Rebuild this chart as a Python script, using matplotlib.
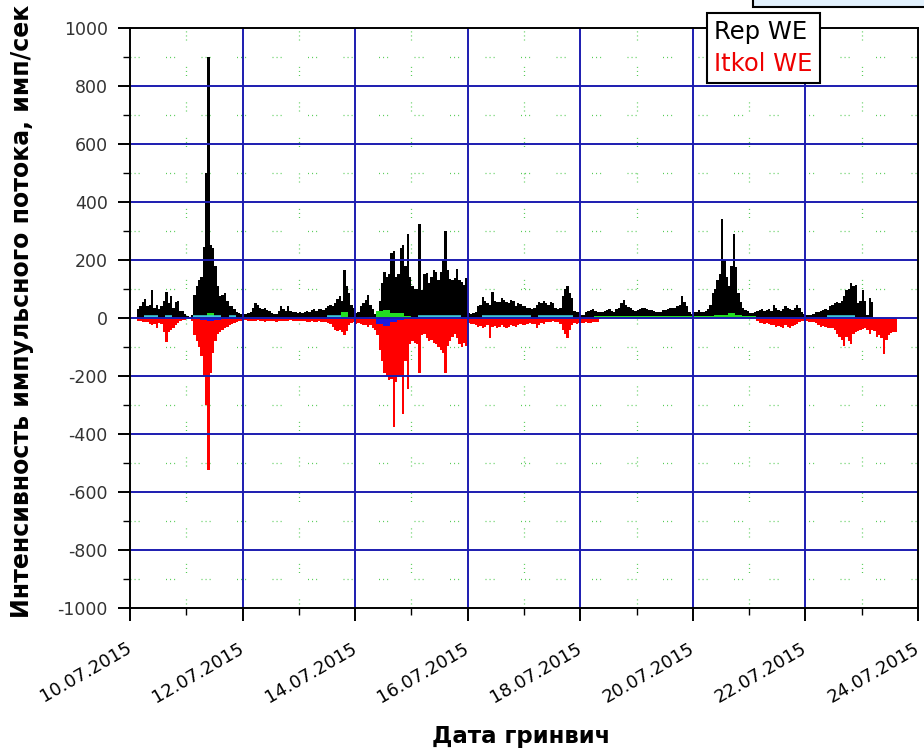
import numpy as np
import matplotlib
matplotlib.use("Agg")
import matplotlib.pyplot as plt
from matplotlib.patches import Rectangle
from matplotlib.ticker import MultipleLocator, FixedLocator

plt.rcParams['lines.scale_dashes'] = False

# ---- data: hourly bins, days 10.07 .. 23.07 (24 values per day) ----
first_day = 10
rep_we = [
    0, 0, 0, 30, 40, 55, 65, 40, 45, 97, 35, 45, 30, 40, 60, 90, 50, 75, 35, 55, 60, 25, 25, 15,            # 10.07
    8, 5, 10, 80, 110, 130, 140, 245, 500, 900, 250, 240, 180, 110, 75, 80, 85, 60, 40, 40, 30, 22, 18, 15,  # 11.07
    15, 15, 18, 20, 35, 50, 45, 35, 30, 35, 28, 25, 18, 15, 15, 25, 40, 30, 25, 40, 25, 20, 22, 18,         # 12.07
    20, 18, 22, 25, 20, 28, 30, 25, 32, 30, 28, 35, 40, 45, 40, 50, 65, 75, 60, 165, 110, 85, 45, 35,       # 13.07
    16, 20, 40, 50, 62, 80, 45, 30, 15, 15, 60, 120, 160, 140, 150, 225, 230, 140, 150, 240, 250, 180, 290, 140,  # 14.07
    110, 100, 100, 325, 95, 150, 155, 120, 140, 165, 160, 130, 160, 200, 300, 165, 135, 130, 137, 170, 130, 125, 115, 137,  # 15.07
    16, 15, 18, 20, 40, 45, 73, 60, 50, 45, 90, 60, 55, 56, 68, 62, 55, 50, 62, 60, 40, 50, 48, 40,         # 16.07
    40, 35, 33, 30, 35, 45, 55, 50, 60, 50, 45, 55, 50, 33, 30, 35, 75, 100, 110, 85, 70, 25, 20, 20,       # 17.07
    10, 12, 22, 25, 28, 30, 25, 22, 20, 22, 25, 28, 30, 25, 22, 30, 33, 50, 62, 45, 39, 35, 28, 25,         # 18.07
    28, 30, 33, 35, 30, 28, 28, 25, 22, 20, 22, 28, 28, 30, 33, 35, 35, 40, 45, 75, 55, 40, 20, 15,         # 19.07
    22, 20, 28, 22, 20, 25, 30, 45, 85, 100, 130, 150, 340, 200, 140, 110, 180, 290, 175, 85, 55, 35, 28, 25,  # 20.07
    18, 16, 20, 25, 28, 30, 25, 28, 30, 25, 45, 35, 28, 25, 30, 40, 35, 30, 28, 33, 45, 35, 20, 15,         # 21.07
    10, 12, 10, 15, 20, 22, 25, 28, 30, 28, 40, 45, 50, 55, 50, 60, 75, 95, 100, 120, 110, 115, 50, 60,     # 22.07
    95, 60, 10, 68, 56, 0, 0, 0, 0, 0, 0, 0, 0, 0, 0, 0, 0, 0, 0, 0, 0, 0, 0, 0,                           # 23.07
]
itkol_we = [
    0, 0, 0, -10, -12, -15, -13, -15, -20, -25, -22, -35, -18, -20, -47, -82, -47, -40, -35, -25, -18, -10, -8, -8,  # 10.07
    -5, -5, -10, -60, -80, -100, -130, -200, -300, -525, -190, -120, -80, -55, -50, -40, -35, -30, -25, -20, -18, -15, -12, -12,  # 11.07
    -8, -8, -10, -10, -12, -10, -8, -10, -12, -15, -12, -10, -10, -12, -15, -12, -10, -10, -12, -10, -8, -10, -12, -10,  # 12.07
    -10, -12, -12, -15, -13, -12, -15, -14, -12, -15, -13, -15, -18, -20, -30, -40, -45, -42, -48, -59, -45, -24, -18, -15,  # 13.07
    -20, -18, -20, -25, -24, -30, -25, -35, -40, -60, -110, -150, -190, -200, -215, -210, -375, -220, -205, -200, -330, -150, -245, -90,  # 14.07
    -80, -85, -90, -190, -60, -55, -70, -80, -75, -85, -90, -100, -110, -120, -190, -95, -80, -65, -55, -70, -90, -100, -85, -95,  # 15.07
    -18, -20, -22, -25, -30, -28, -35, -30, -25, -70, -30, -28, -35, -30, -25, -30, -35, -30, -25, -28, -30, -25, -22, -25,  # 16.07
    -25, -20, -18, -22, -20, -35, -25, -18, -20, -15, -13, -15, -12, -15, -13, -20, -40, -55, -70, -40, -25, -18, -20, -18,  # 17.07
    -18, -18, -15, -18, -18, -15, -15, -15, 0, 0, 0, 0, 0, 0, 0, 0, 0, 0, 0, 0, 0, 0, 0, 0,                  # 18.07
    0, 0, 0, 0, 0, 0, 0, 0, 0, 0, 0, 0, 0, 0, 0, 0, 0, 0, 0, 0, 0, 0, 0, 0,                                  # 19.07
    0, 0, 0, 0, 0, 0, 0, 0, 0, 0, 0, 0, 0, 0, 0, 0, 0, 0, 0, 0, 0, 0, 0, 0,                                  # 20.07
    0, 0, 0, -10, -18, -18, -20, -18, -22, -24, -25, -30, -28, -30, -36, -25, -30, -36, -28, -25, -20, -15, -12, -12,  # 21.07
    -12, -13, -15, -15, -18, -25, -30, -28, -30, -35, -33, -36, -40, -55, -64, -76, -95, -65, -80, -90, -55, -50, -45, -40,  # 22.07
    -38, -36, -40, -55, -40, -45, -65, -60, -70, -125, -75, -60, -53, -50, -48, 0, 0, 0, 0, 0, 0, 0, 0, 0,  # 23.07
]

# ---- data: 3-hour bins (8 values per day) ----
green_series = [
    0, 0, 0, 0, 0, 0, 0, 0,       # 10.07
    0, 0, 5, 18, 5, 0, 0, 0,      # 11.07
    5, 5, 5, 5, 0, 0, 0, 0,       # 12.07
    0, 0, 0, 0, 0, 5, 22, 5,      # 13.07
    0, 0, 5, 25, 28, 16, 16, 8,   # 14.07
    5, 5, 0, 0, 0, 0, 0, 0,       # 15.07
    0, 0, 0, 0, 0, 0, 0, 0,       # 16.07
    0, 0, 0, 0, 0, 0, 0, 0,       # 17.07
    0, 0, 6, 6, 6, 6, 6, 6,       # 18.07
    6, 6, 6, 6, 6, 6, 6, 6,       # 19.07
    6, 6, 6, 10, 12, 16, 10, 6,   # 20.07
    6, 0, 0, 0, 0, 0, 0, 0,       # 21.07
    0, 0, 0, 0, 0, 0, 0, 0,       # 22.07
    0, 0, 0, 0, 0, 0, 0, 0,       # 23.07
]
blue_series = [
    0, -4, -4, -4, -4, -4, -4, -4,      # 10.07
    -4, -4, -6, -10, -6, -4, -4, -4,    # 11.07
    -4, -4, -4, -4, -4, -4, -4, -4,     # 12.07
    -4, -4, -4, -4, -4, -4, -4, -4,     # 13.07
    -4, -4, -4, -22, -28, -15, -6, -4,  # 14.07
    -4, -4, -4, -4, -4, -4, -4, -4,     # 15.07
    -4, -4, -4, -4, -4, -4, -4, -4,     # 16.07
    -4, -4, -4, -4, -4, -4, -4, -4,     # 17.07
    -4, -4, -2, 0, 0, 0, 0, 0,          # 18.07
    0, 0, 0, 0, 0, 0, 0, 0,             # 19.07
    0, 0, 0, 0, 0, 0, 0, 0,             # 20.07
    0, -2, -4, -4, -4, -4, -4, -4,      # 21.07
    -4, -4, -4, -4, -4, -4, -4, -4,     # 22.07
    -4, -4, -4, -4, -4, 0, 0, 0,        # 23.07
]
nan = np.nan
cyan_series = [
    nan, nan, 5, 5, nan, 5, nan, nan,   # 10.07
    nan, 5, 5, 5, 5, nan, 5, nan,       # 11.07
    nan, nan, nan, nan, nan, nan, nan, nan,  # 12.07
    nan, nan, nan, nan, 5, 5, nan, nan, # 13.07
    nan, nan, nan, nan, nan, nan, nan, nan,  # 14.07
    nan, 5, 5, 5, 5, 5, 5, nan,         # 15.07
    nan, nan, 5, 5, 5, 5, 5, 5,         # 16.07
    5, nan, 5, 5, 5, 5, 5, nan,         # 17.07
    nan, nan, nan, nan, nan, nan, nan, nan,  # 18.07
    nan, nan, nan, nan, nan, nan, nan, nan,  # 19.07
    nan, nan, nan, nan, nan, nan, nan, nan,  # 20.07
    nan, nan, nan, nan, nan, nan, nan, nan,  # 21.07
    nan, nan, nan, 5, 5, 5, 5, nan,     # 22.07
    nan, nan, nan, nan, nan, nan, nan, nan,  # 23.07
]

tick_days = [10, 12, 14, 16, 18, 20, 22, 24]
tick_labels = ["10.07.2015", "12.07.2015", "14.07.2015", "16.07.2015",
               "18.07.2015", "20.07.2015", "22.07.2015", "24.07.2015"]
y_ticks = [-1000, -800, -600, -400, -200, 0, 200, 400, 600, 800, 1000]

# ---- figure ----
W, H = 924, 752
fig = plt.figure(figsize=(W / 100, H / 100), dpi=100)
fig.patch.set_facecolor("white")
L, R, T, B = 130, 918, 28, 608
ax = fig.add_axes([L / W, (H - B) / H, (R - L) / W, (B - T) / H])

edges_h = first_day + np.arange(len(rep_we) + 1) / 24.0
edges_3h = first_day + np.arange(len(green_series) + 1) / 8.0

rep_art = ax.stairs(rep_we, edges_h, baseline=0, fill=True, color="black", zorder=2)
itk_art = ax.stairs(itkol_we, edges_h, baseline=0, fill=True, color="#ff0000", zorder=2)
ax.stairs(green_series, edges_3h, baseline=0, fill=True, color="#22dd22", zorder=3)
ax.stairs(blue_series, edges_3h, baseline=0, fill=True, color="#1a1ae0", zorder=3)

cy = np.asarray(cyan_series, dtype=float)
ok = ~np.isnan(cy)
ax.hlines(cy[ok], edges_3h[:-1][ok], edges_3h[1:][ok], color="#3cc8d8", lw=2.6, zorder=4)

ax.set_xlim(10, 24)
ax.set_ylim(-1000, 1000)

# grids: solid blue major, sparse dotted green minor
grid_blue = "#1c1cb0"
for d in tick_days[1:-1]:
    ax.axvline(d, color=grid_blue, lw=1.4, zorder=5)
for v in y_ticks[1:-1]:
    ax.axhline(v, color=grid_blue, lw=1.4, zorder=5)
dots = (0, (0.72, 2.2, 0.72, 2.2, 0.72, 19))
for d in range(11, 24, 2):
    ax.axvline(d, color="#55cc55", lw=0.9, ls=dots, zorder=1)
for v in range(-900, 1000, 200):
    ax.axhline(v, color="#55cc55", lw=0.9, ls=dots, zorder=1)

# axes frame and ticks
for s in ax.spines.values():
    s.set_linewidth(1.4)
    s.set_color("black")
    s.set_zorder(6)
ax.xaxis.set_major_locator(FixedLocator(tick_days))
ax.xaxis.set_minor_locator(MultipleLocator(1))
ax.yaxis.set_major_locator(FixedLocator(y_ticks))
ax.yaxis.set_minor_locator(MultipleLocator(100))
ax.tick_params(axis="both", which="major", direction="out", length=9, width=1.4, color="black")
ax.tick_params(axis="both", which="minor", direction="out", length=5, width=1.0, color="black")
ax.set_xticklabels(tick_labels, rotation=30, ha="right", va="center",
                   rotation_mode="anchor", fontsize=13, color="black",
                   family="DejaVu Sans")
ax.set_yticklabels([str(v) for v in y_ticks], fontsize=12.5, color="#333333",
                   family="DejaVu Sans")
ax.tick_params(axis="x", which="major", pad=19)
ax.tick_params(axis="y", which="major", pad=7)

fig.text(22 / W, 1 - 311 / H, "Интенсивность импульсного потока, имп/сек",
         rotation=90, ha="center", va="center", fontsize=17, fontweight="bold",
         family="DejaVu Sans")
fig.text(521 / W, 1 - 736 / H, "Дата гринвич", ha="center", va="center",
         fontsize=16.5, fontweight="bold", family="DejaVu Sans")

leg = ax.legend([rep_art, itk_art], ["Rep WE", "Itkol WE"],
                handlelength=0, handletextpad=0, labelcolor=["black", "#ee0000"],
                frameon=True, fancybox=False, edgecolor="black", framealpha=1,
                borderpad=0.3, labelspacing=0.3, borderaxespad=0,
                loc="upper left", bbox_to_anchor=(707 / W, 1 - 13 / H),
                bbox_transform=fig.transFigure, prop={"size": 17.5, "family": "DejaVu Sans"})
leg.get_frame().set_linewidth(1.5)
leg.set_zorder(10)

fig.add_artist(Rectangle((753 / W, 1 - 7 / H), 300 / W, 30 / H,
                         transform=fig.transFigure, facecolor="#e2f1fd",
                         edgecolor="black", lw=1.5, zorder=10))

fig.savefig("out.png", dpi=100)
